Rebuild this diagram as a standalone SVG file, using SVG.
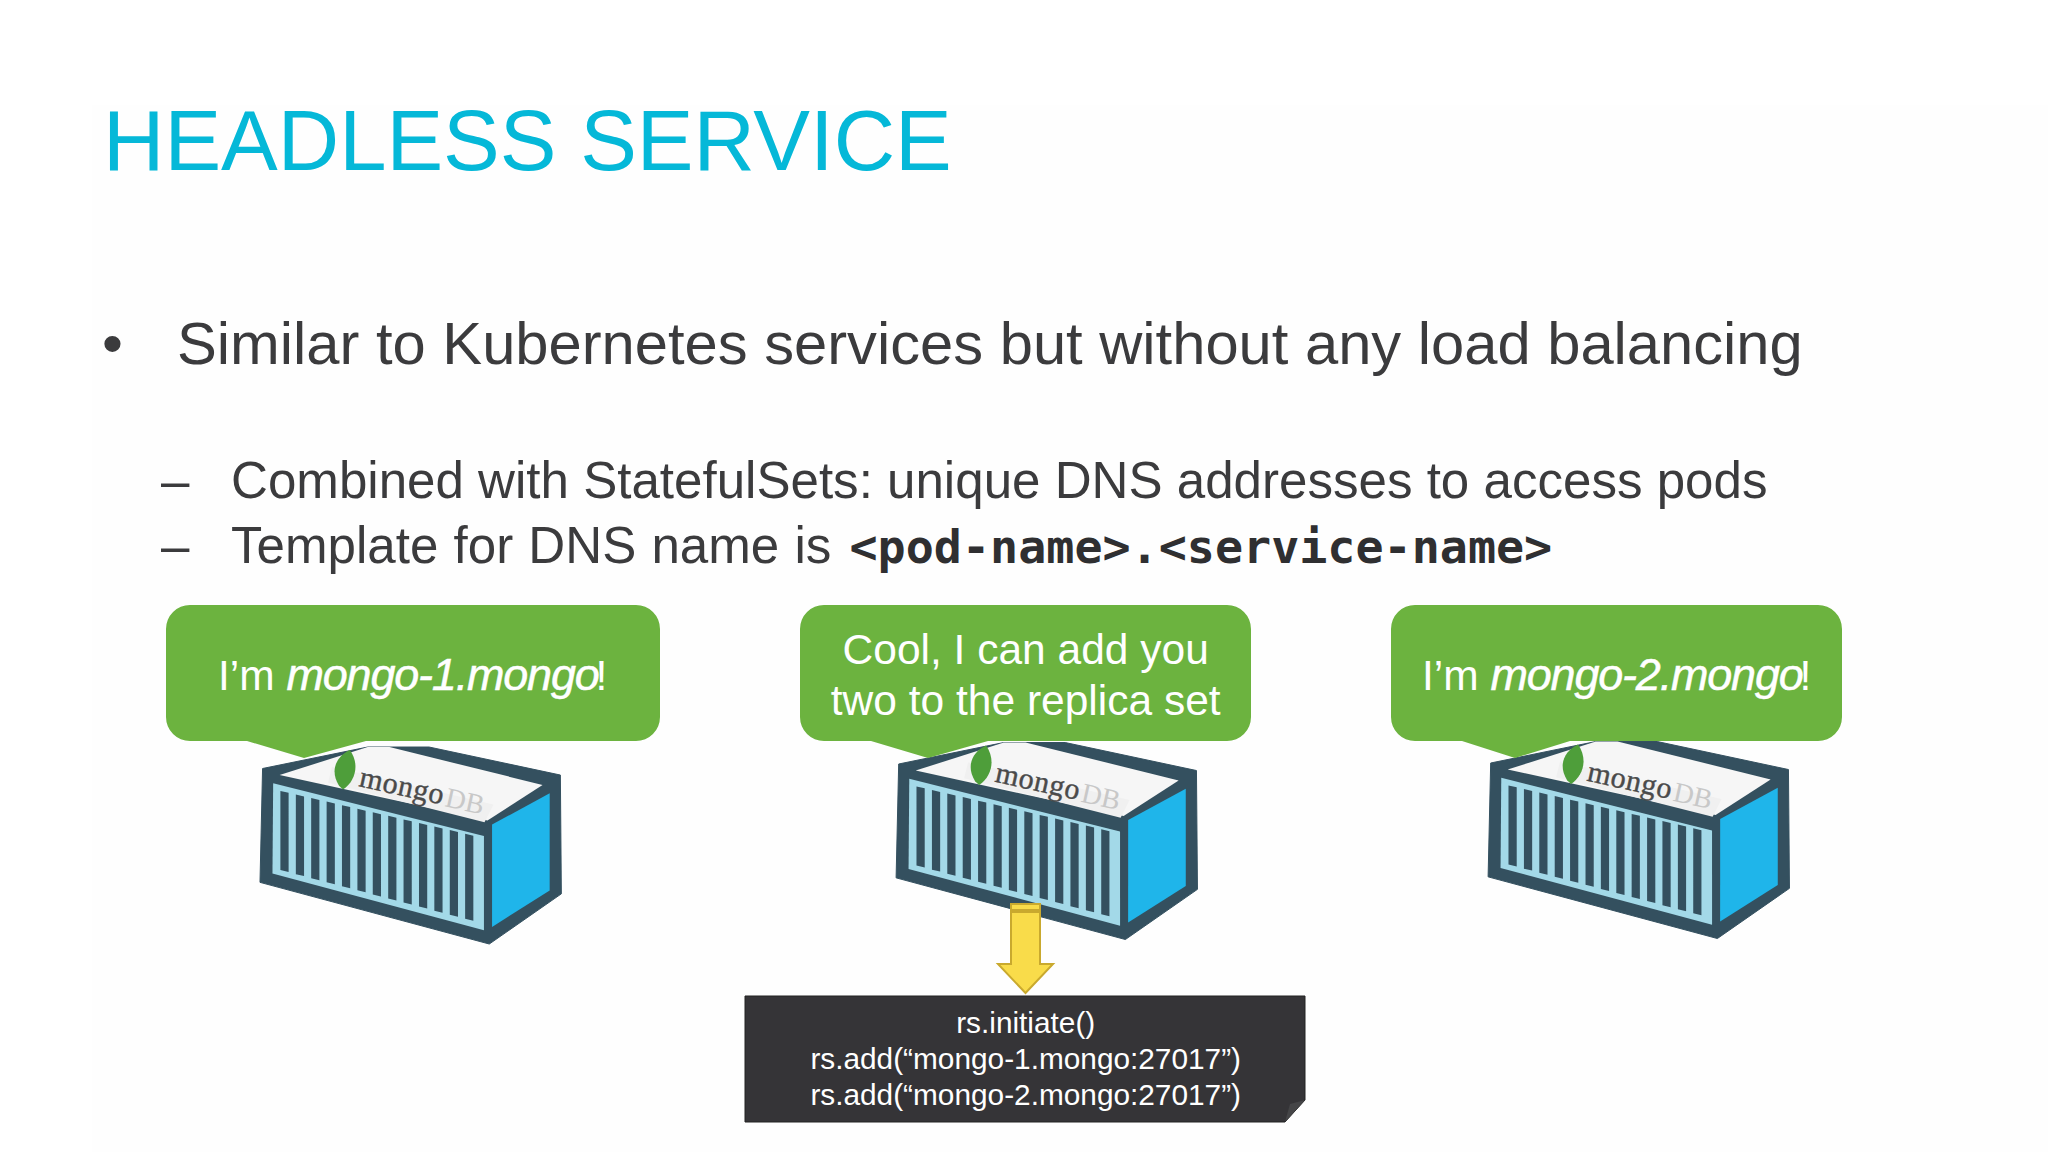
<svg xmlns="http://www.w3.org/2000/svg" width="2048" height="1152" viewBox="0 0 2048 1152">
<style>
text{font-family:"Liberation Sans",Arial,sans-serif}
.title{font-size:85px;fill:#05b8d8}
.b1{font-size:59.7px;fill:#3b3b3d}
.b2{font-size:51.1px;fill:#3b3b3d}
.mono{font-family:"DejaVu Sans Mono",monospace;font-weight:700;font-size:46.7px;fill:#2f2f31}
.bub{fill:#6cb33f}
.bt{font-size:42.5px;fill:#fff}
.it{font-style:italic;font-size:45px;letter-spacing:-1.2px;stroke:#fff;stroke-width:.5px}
.mid{text-anchor:middle}
.code{font-size:29.8px;fill:#fff;text-anchor:middle}
.mg{font-family:"Liberation Serif",serif;font-size:30px;fill:#4a4a4a;letter-spacing:.6px;stroke:#4a4a4a;stroke-width:.4px}
.db{font-family:"Liberation Serif",serif;font-size:28px;fill:#c8c8c8}
</style>
<defs>
<g id="box">
<polygon points="262.8,769.7 369,748 431,748 563.6,776.3 564.6,896.3 491.8,947 260.2,884.7" fill="#34505f" stroke="#34505f" stroke-linejoin="round"/>
<polygon points="280,776.3 369,748 391,748 545.6,786.3 490,822.3" fill="#f6f6f6"/>
<polygon points="273.5,784.7 486.4,838 486.4,933 272.8,875.7" fill="#a3d9e8"/>
<path d="M280.8 792.3l8.3 2V874.3l-8.3-2zM296.4 795.9l8.3 2V878.4l-8.3-2zM311.9 799.5l8.3 2V882.5l-8.3-2zM327.5 803.1l8.3 2V886.6l-8.3-2zM343 806.7l8.3 2V890.7l-8.3-2zM358.6 810.3l8.3 2V894.8l-8.3-2zM374.1 813.9l8.3 2V898.9l-8.3-2zM389.7 817.5l8.3 2V903l-8.3-2zM405.2 821.1l8.3 2V907.1l-8.3-2zM420.8 824.7l8.3 2V911.2l-8.3-2zM436.3 828.3l8.3 2V915.3l-8.3-2zM451.9 831.9l8.3 2V919.4l-8.3-2zM467.4 835.5l8.3 2V923.5l-8.3-2z" fill="#34505f"/>
<polygon points="494.6,826.3 552.8,794.7 552.8,893 494.6,929.7" fill="#1fb5ea"/>
<polygon points="333,768 496,806 487,824 329,784" fill="#f0f0f0"/>
<path d="M351 751C336 758 331 773 340 787L344 791C357 782 361 765 351 751Z" fill="#4e9e3a"/>
</g>
</defs>
<rect width="2048" height="1152" fill="#fff"/>
<rect x="92" y="105" width="1956" height="1047" fill="#fefefe"/>
<text id="title" class="title" x="103" y="170">HEADLESS SERVICE</text>
<g id="bullets">
<text class="b1" x="102" y="364">•</text>
<text class="b1" x="177" y="364">Similar to Kubernetes services but without any load balancing</text>
<text class="b2" x="161" y="498">–</text>
<text class="b2" x="231" y="498">Combined with StatefulSets: unique DNS addresses to access pods</text>
<text class="b2" x="161" y="563">–</text>
<text class="b2" x="231" y="563" word-spacing="1">Template for DNS name is <tspan class="mono" dx="3">&lt;pod-name&gt;.&lt;service-name&gt;</tspan></text>
</g>
<g id="node-mongo-1">
<use href="#box" transform="translate(2.4 6.5) scale(.99)"/>
<text class="mg" transform="translate(358 786) rotate(12.5)">mongo</text>
<text class="db" transform="translate(444 806) rotate(12.5)">DB</text>
<path class="bub" d="M190 605H636A24 24 0 0 1 660 629V717A24 24 0 0 1 636 741H366L304 758L247 741H190A24 24 0 0 1 166 717V629A24 24 0 0 1 190 605Z"/>
<text class="bt" x="218" y="690">I’m <tspan class="it">mongo-1.mongo</tspan><tspan dx="-3">!</tspan></text>
</g>
<g id="node-primary">
<use href="#box" transform="translate(638.5 2) scale(.99)"/>
<text class="mg" transform="translate(994 781.5) rotate(12.5)">mongo</text>
<text class="db" transform="translate(1080 801.5) rotate(12.5)">DB</text>
<path class="bub" d="M824 605H1227A24 24 0 0 1 1251 629V717A24 24 0 0 1 1227 741H988L928 758L871 741H824A24 24 0 0 1 800 717V629A24 24 0 0 1 824 605Z"/>
<text class="bt mid" x="1025.7" y="664">Cool, I can add you</text>
<text class="bt mid" x="1025.7" y="715">two to the replica set</text>
</g>
<g id="node-mongo-2">
<use href="#box" transform="translate(1230.5 1) scale(.99)"/>
<text class="mg" transform="translate(1586 780.5) rotate(12.5)">mongo</text>
<text class="db" transform="translate(1672 800.5) rotate(12.5)">DB</text>
<path class="bub" d="M1415 605H1818A24 24 0 0 1 1842 629V717A24 24 0 0 1 1818 741H1570L1515 758L1462 741H1415A24 24 0 0 1 1391 717V629A24 24 0 0 1 1415 605Z"/>
<text class="bt" x="1422" y="690">I’m <tspan class="it">mongo-2.mongo</tspan><tspan dx="-3">!</tspan></text>
</g>
<g id="connectors">
<polygon points="1011,904 1040,904 1040,964 1053,964 1025.5,993 998,964 1011,964" fill="#f9dc4a" stroke="#c9a92e" stroke-width="2"/>
<rect x="1012" y="909" width="27" height="4" fill="#c9a92e"/>
</g>
<g id="node-commands">
<polygon points="745,996 1305,996 1305,1100 1285,1122 745,1122" fill="#353437" stroke="#222" stroke-width="1"/>
<polygon points="1285,1122 1290,1104 1305,1100" fill="#454547"/>
<text class="code" x="1025.7" y="1033">rs.initiate()</text>
<text class="code" x="1025.7" y="1069">rs.add(“mongo-1.mongo:27017”)</text>
<text class="code" x="1025.7" y="1105">rs.add(“mongo-2.mongo:27017”)</text>
</g>
</svg>
